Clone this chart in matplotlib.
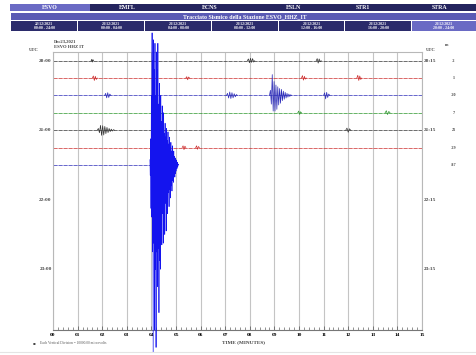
import numpy as np
import matplotlib
matplotlib.use("Agg")
import matplotlib.pyplot as plt
from matplotlib.patches import Rectangle

W, H = 476, 355

# ---------------- data ----------------
station_tabs = ["ESVO", "EMFL", "ECNS", "ESLN", "STR1", "STRA"]
title_text = "Tracciato Sismico della Stazione ESVO_HHZ_IT"
window_dates = ["22/12/2021", "23/12/2021", "23/12/2021", "23/12/2021",
                "23/12/2021", "23/12/2021", "23/12/2021"]
window_spans = ["00:00 - 24:00", "00:00 - 04:00", "04:00 - 08:00", "08:00 - 12:00",
                "12:00 - 16:00", "16:00 - 20:00", "20:00 - 24:00"]

left_times = ["20:00", "21:00", "22:00", "23:00"]
right_times = ["20:15", "21:15", "22:15", "23:15"]
trace_offsets = ["-2", "1", "-20", "7", "21", "-29", "-87"]
trace_colors = ["#333333", "#cc2a2a", "#2a2ab8", "#2a962a", "#333333", "#cc2a2a", "#2a2ab8"]
trace_end = [15, 15, 15, 15, 15, 15, 3.94]
minute_labels = ["%02d" % m for m in range(16)]

# events: (start minute, end minute, amplitudes in trace spacings, + = up)
trace_events = [
    [(1.55, 1.65, [0, 0.08, -0.08, 0.06, 0]),
     (7.9, 8.2, [0, 0.1, -0.12, 0.14, -0.1, 0.12, -0.08, 0]),
     (10.7, 10.9, [0, 0.12, -0.14, 0.1, -0.06, 0])],
    [(1.6, 1.8, [0, 0.12, -0.14, 0.1, -0.08, 0]),
     (5.4, 5.55, [0, 0.08, -0.1, 0.06, 0]),
     (10.1, 10.3, [0, 0.14, -0.12, 0.1, -0.06, 0]),
     (12.35, 12.55, [0, 0.16, -0.14, 0.12, -0.08, 0])],
    [(2.1, 2.35, [0, 0.12, -0.14, 0.16, -0.12, 0.08, 0]),
     (7.05, 7.5, [0, 0.12, -0.15, 0.2, -0.18, 0.16, -0.14, 0.1, -0.08, 0.05, 0]),
     (8.8, 9.7, [0, 0.3, -0.5, 1.2, -0.9, 0.8, -0.9, 0.6, -0.8, 0.5, -0.55,
                 0.4, -0.45, 0.35, -0.3, 0.25, -0.22, 0.18, -0.15, 0.12,
                 -0.1, 0.08, -0.06, 0.04, 0]),
     (11.0, 11.25, [0, 0.15, -0.2, 0.18, -0.12, 0.08, 0])],
    [(9.95, 10.1, [0, 0.1, -0.1, 0.06, 0]),
     (13.5, 13.7, [0, 0.12, -0.1, 0.08, 0])],
    [(1.8, 2.5, [0, 0.1, -0.15, 0.28, -0.3, 0.26, -0.28, 0.22, -0.2, 0.16,
                 -0.14, 0.1, -0.08, 0.06, -0.05, 0.03, 0]),
     (11.9, 12.1, [0, 0.12, -0.12, 0.08, 0])],
    [(5.25, 5.4, [0, 0.1, -0.12, 0.08, 0]),
     (5.8, 5.95, [0, 0.1, -0.1, 0.06, 0])],
    [],
]

# the large earthquake on the last trace (21:30 row)
quake_start, quake_end = 3.94, 5.10
quake_amp = [0.3, -0.6, 1.5, -2.5, 4.0, -3.0, 7.6, -5.0, 6.0, -10.8,
             7.2, -4.5, 5.5, -9.5, 7.0, -6.0, 4.0, -10.5, 6.5, -5.0,
             5.5, -7.0, 7.0, -4.8, 3.5, -8.5, 4.7, -5.5, 3.0, -6.0,
             4.0, -3.5, 2.5, -4.6, 3.4, -2.8, 2.2, -4.5, 3.0, -3.0,
             1.8, -4.0, 2.4, -2.2, 1.6, -3.8, 2.1, -2.0, 1.4, -2.8,
             1.9, -1.6, 1.2, -2.4, 1.6, -1.4, 1.0, -1.9, 1.3, -1.2,
             0.8, -1.5, 1.1, -0.9, 0.6, -1.0, 0.8, -0.6, 0.5, -0.7,
             0.4, -0.5, 0.3, -0.35, 0.25, -0.2, 0.15, -0.1, 0.05, 0.0]

# ---------------- figure ----------------
fig = plt.figure(figsize=(W / 100, H / 100), dpi=100)
fig.patch.set_facecolor("white")

def fx(px):
    return px / W

def fy(py):
    return 1 - py / H

def frect(x0, y0, x1, y1, color):
    fig.add_artist(Rectangle((fx(x0), fy(y1)), fx(x1) - fx(x0), fy(y0) - fy(y1),
                             transform=fig.transFigure, facecolor=color,
                             edgecolor="none", zorder=0))

hdr_font = dict(family="Liberation Serif", weight="bold", color="white")

# row 1: station tabs
frect(10, 4, 476, 11, "#24245e")
frect(10, 4, 90, 11, "#6a6ac4")
tab_x = [50, 127, 210, 293, 363, 440]
for name, x in zip(station_tabs, tab_x):
    fig.text(fx(x), fy(7.5), name, ha="center", va="center", fontsize=4.2,
             **hdr_font)

# row 2: title bar
frect(11, 13, 476, 19.5, "#5a5ab4")
fig.text(fx(245), fy(16.3), title_text, ha="center", va="center", fontsize=4.2,
         **hdr_font)

# row 3: time windows
box_x = [(11, 77), (78, 144), (145, 211), (212, 278), (279, 344), (345, 411), (412, 476)]
for i, ((x0, x1), d, s) in enumerate(zip(box_x, window_dates, window_spans)):
    frect(x0, 21, x1, 31, "#6a6ac4" if i == len(box_x) - 1 else "#2b2b6b")
    fig.text(fx((x0 + x1) / 2), fy(26), d + "\n" + s, ha="center", va="center",
             fontsize=2.8, linespacing=1.0, **hdr_font)

# ---------------- axes ----------------
ax = fig.add_axes([fx(53), fy(330), fx(422) - fx(53), fy(52) - fy(330)])
ax.set_xlim(0, 15)
ax.set_ylim(16, 0)
for side in ["top", "left", "right"]:
    ax.spines[side].set_color("#b8b8b8")
    ax.spines[side].set_linewidth(0.8)
ax.spines["bottom"].set_color("#777777")
ax.spines["bottom"].set_linewidth(0.8)

ax.set_xticks(range(16))
ax.set_xticklabels(minute_labels)
ax.set_xticks(np.arange(0, 15.01, 0.2), minor=True)
ax.tick_params(axis="x", which="major", direction="in", length=3, width=0.6,
               color="#666666", labelsize=3.8, pad=2)
ax.tick_params(axis="x", which="minor", direction="in", length=2, width=0.5,
               color="#666666")
for lab in ax.get_xticklabels():
    lab.set_family("Liberation Serif")
    lab.set_weight("bold")
ax.set_yticks([])
ax.grid(axis="x", which="major", color="#c4c4c4", linewidth=0.8)
ax.set_axisbelow(True)

# traces
for i, (col, tend, evs) in enumerate(zip(trace_colors, trace_end, trace_events)):
    base = i + 0.5
    ax.plot([0, tend], [base, base], color=col, lw=0.5,
            linestyle=(0, (6, 1.2)), zorder=2)
    for (s, e, amps) in evs:
        xs = np.linspace(s, e, len(amps))
        ax.plot(xs, base - np.array(amps), color=col, lw=0.5, zorder=3)

# big quake on the 7th trace
qx = np.linspace(quake_start, quake_end, len(quake_amp))
ax.plot(qx, 6.5 - np.array(quake_amp), color="#1414ee", lw=0.5, zorder=4,
        clip_on=False)

# hour labels
lab_font = dict(family="Liberation Serif", weight="bold", color="#444444")
for k, (lt, rt) in enumerate(zip(left_times, right_times)):
    yy = 0.5 + 4 * k
    ax.text(-0.05, yy, lt, ha="right", va="center", fontsize=3.8, **lab_font)
    ax.text(15.08, yy, rt, ha="left", va="center", fontsize=3.8, **lab_font)
ax.text(-0.8, -0.1, "UTC", ha="center", va="center", fontsize=3.3, **lab_font)
ax.text(15.35, -0.1, "UTC", ha="center", va="center", fontsize=3.3, **lab_font)
ax.text(16.0, -0.4, "m", ha="center", va="center", fontsize=3.0, **lab_font)
for i, off in enumerate(trace_offsets):
    ax.text(16.3, i + 0.5, off, ha="center", va="center", fontsize=3.0, **lab_font)

# top-left station info
fig.text(fx(54), fy(42), "Dec23,2021", ha="left", va="center", fontsize=3.3,
         **lab_font)
fig.text(fx(54), fy(47), "ESVO HHZ IT", ha="left", va="center", fontsize=3.3,
         **lab_font)

# bottom annotations
fig.text(fx(222), fy(342), "TIME (MINUTES)", ha="left", va="center",
         fontsize=3.8, **lab_font)
fig.text(fx(34), fy(343), "\u25aa", ha="center", va="center", fontsize=3.0,
         color="#444444")
fig.text(fx(40), fy(343), "Each Vertical Division = 10000.00 microvolts",
         ha="left", va="center", fontsize=2.6, family="Liberation Serif",
         color="#555555")
fig.add_artist(plt.Line2D([0, 1], [fy(352), fy(352)], transform=fig.transFigure,
                          color="#e4e4e4", lw=0.8))

fig.savefig("out.png", dpi=100)
